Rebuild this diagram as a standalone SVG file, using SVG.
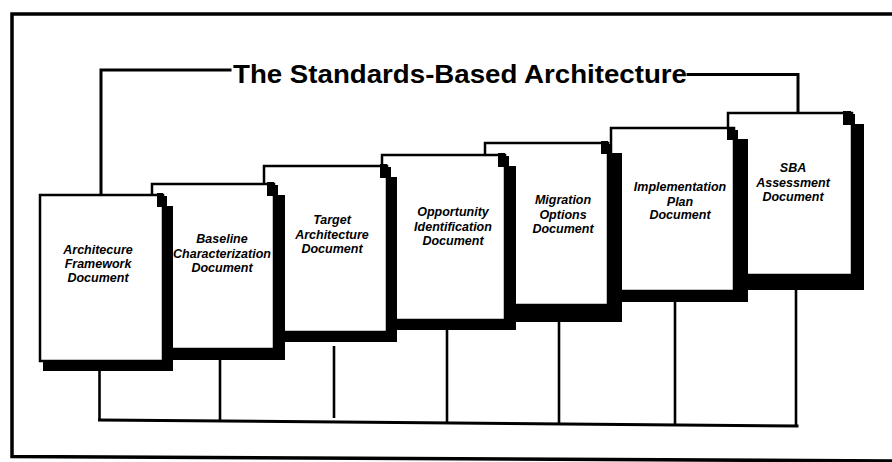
<svg xmlns="http://www.w3.org/2000/svg" width="892" height="462" viewBox="0 0 892 462">
<style>
  .frame{fill:none;stroke:#000;stroke-width:3.5}
  .line{fill:none;stroke:#000;stroke-width:3;stroke-linecap:square}
  .conn{fill:none;stroke:#000;stroke-width:2.6}
  .shadow{fill:#000}
  .page{fill:#fff;stroke:#000;stroke-width:2.5}
  .ear{fill:#000}
  .title{font-family:"Liberation Sans",Arial,sans-serif;font-weight:bold;font-size:26px;fill:#000}
  .lbl{font-family:"Liberation Sans",Arial,sans-serif;font-weight:bold;font-style:italic;font-size:12.5px;fill:#000;text-anchor:middle}
</style>
<rect width="892" height="462" fill="#fff"/>
<g id="frame">
  <path class="frame" d="M892,14 H12 V456.5 L892,461"/>
</g>
<g id="title">
  <text class="title" x="233" y="83" textLength="454" lengthAdjust="spacingAndGlyphs">The Standards-Based Architecture</text>
</g>
<g id="connectors">
  <path class="line" d="M101,195 V70 H230"/>
  <path class="line" d="M688,74.5 H798 V113"/>
  <path class="conn" d="M99.5,371 V420"/>
  <path class="conn" d="M220,360 V421"/>
  <path class="conn" d="M334,346 V418"/>
  <path class="conn" d="M447,330 V423"/>
  <path class="conn" d="M559,322 V423.5"/>
  <path class="conn" d="M675,302 V424.5"/>
  <path class="conn" d="M796,290 V426"/>
  <path class="line" d="M99.5,420 L797,426"/>
</g>
<g id="doc7">
  <rect class="shadow" x="732" y="124" width="132" height="166"/>
  <rect class="page" x="728" y="113" width="124" height="162"/>
  <path class="ear" d="M843,111 H851 V114 H855 V125 H843 Z"/>
  <text class="lbl" x="793" y="172">SBA</text>
  <text class="lbl" x="793" y="187">Assessment</text>
  <text class="lbl" x="793" y="201">Document</text>
</g>
<g id="doc6">
  <rect class="shadow" x="615" y="139" width="133" height="163"/>
  <rect class="page" x="611" y="128" width="123" height="163"/>
  <path class="ear" d="M727,127 H734 V130 H738 V140 H727 Z"/>
  <text class="lbl" x="680" y="191">Implementation</text>
  <text class="lbl" x="680" y="206">Plan</text>
  <text class="lbl" x="680" y="219">Document</text>
</g>
<g id="doc5">
  <rect class="shadow" x="489" y="153" width="133" height="169"/>
  <rect class="page" x="485" y="143" width="123" height="162"/>
  <path class="ear" d="M601,141 H608 V144 H612 V154 H601 Z"/>
  <text class="lbl" x="563" y="204">Migration</text>
  <text class="lbl" x="563" y="219">Options</text>
  <text class="lbl" x="563" y="233">Document</text>
</g>
<g id="doc4">
  <rect class="shadow" x="386" y="166" width="130" height="164"/>
  <rect class="page" x="382" y="155" width="123" height="165"/>
  <path class="ear" d="M498,153 H505 V156 H509 V167 H498 Z"/>
  <text class="lbl" x="453" y="216">Opportunity</text>
  <text class="lbl" x="453" y="231">Identification</text>
  <text class="lbl" x="453" y="245">Document</text>
</g>
<g id="doc3">
  <rect class="shadow" x="268" y="177" width="129" height="165"/>
  <rect class="page" x="264" y="166" width="123" height="166"/>
  <path class="ear" d="M380,164 H387 V167 H391 V178 H380 Z"/>
  <text class="lbl" x="332" y="224">Target</text>
  <text class="lbl" x="332" y="239">Architecture</text>
  <text class="lbl" x="332" y="253">Document</text>
</g>
<g id="doc2">
  <rect class="shadow" x="156" y="195" width="129" height="165"/>
  <rect class="page" x="152" y="184" width="122" height="165"/>
  <path class="ear" d="M267,182 H274 V185 H278 V196 H267 Z"/>
  <text class="lbl" x="222" y="243">Baseline</text>
  <text class="lbl" x="222" y="258">Characterization</text>
  <text class="lbl" x="222" y="272">Document</text>
</g>
<g id="doc1">
  <rect class="shadow" x="43" y="206" width="130" height="165"/>
  <rect class="page" x="40" y="195" width="123" height="166"/>
  <path class="ear" d="M157,193 H163 V196 H167 V207 H157 Z"/>
  <text class="lbl" x="98" y="254">Architecure</text>
  <text class="lbl" x="98" y="268">Framework</text>
  <text class="lbl" x="98" y="282">Document</text>
</g>
</svg>
